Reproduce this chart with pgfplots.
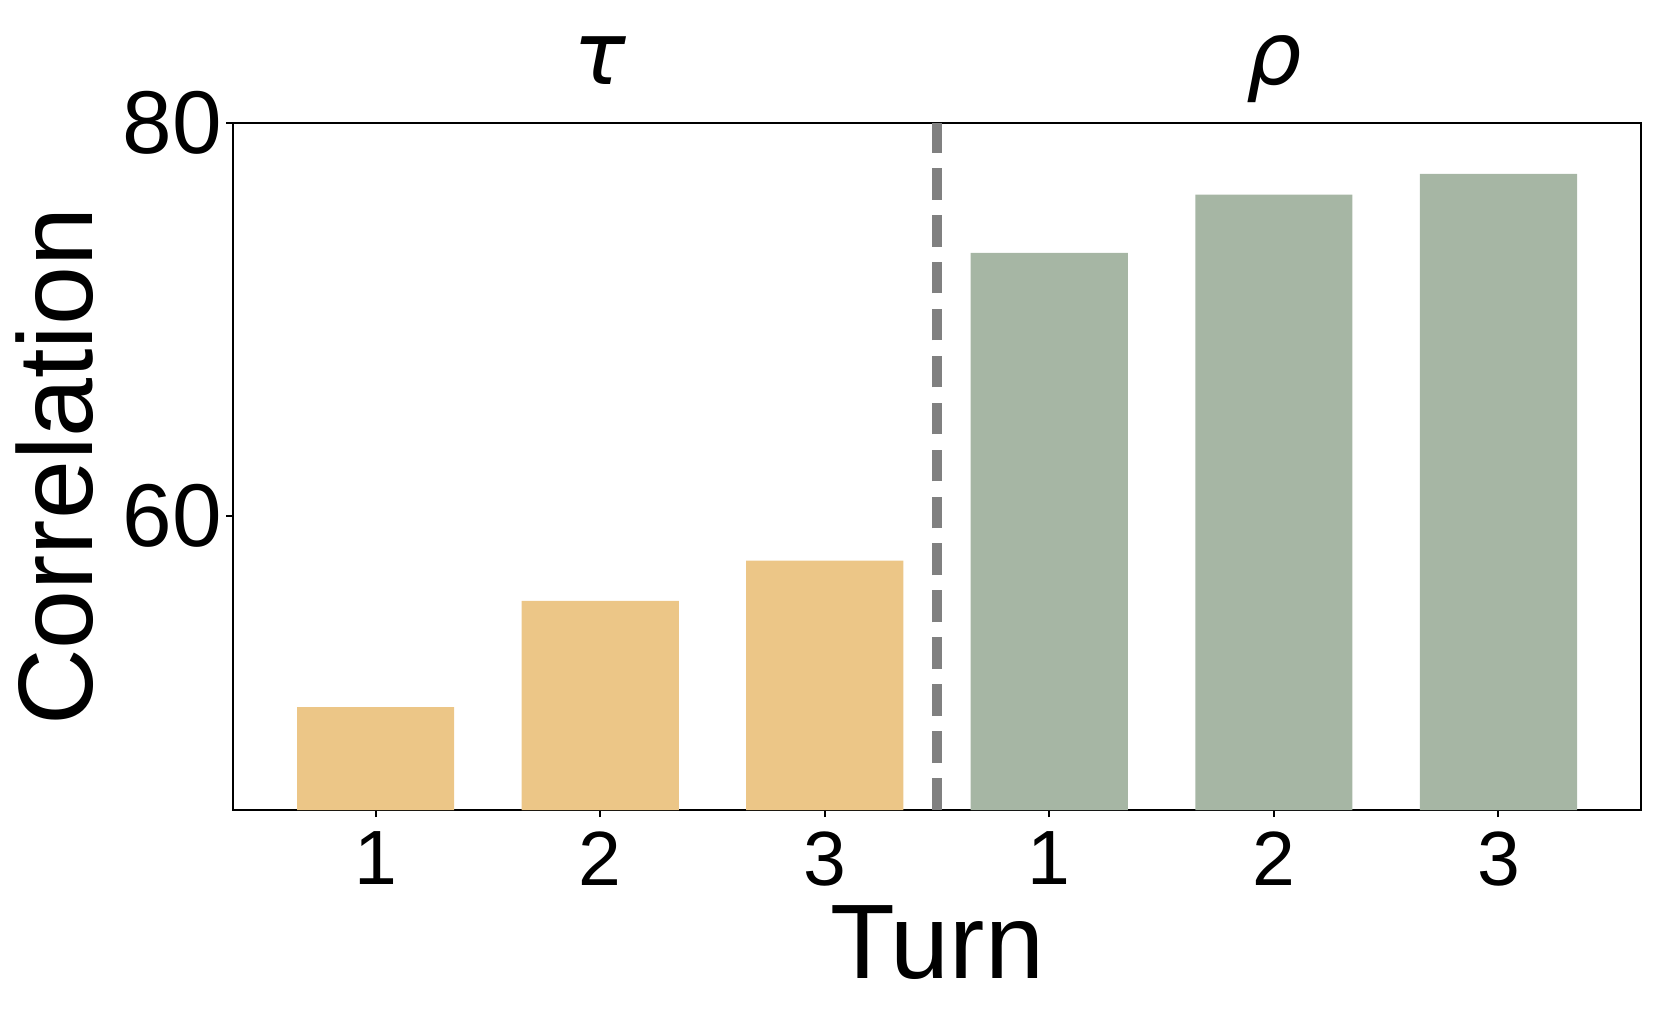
\documentclass[border=0pt]{standalone}
\usepackage{fontspec}
\setmainfont{Liberation Sans}
\newfontfamily\greekfont{DejaVu Sans}
\usepackage{pgfplots}
\pgfplotsset{compat=1.18}
\definecolor{tauc}{HTML}{ECC687}
\definecolor{rhoc}{HTML}{A6B6A4}
\begin{document}
\begin{tikzpicture}
\begin{axis}[
  width=402.6pt, height=196.4pt, scale only axis,
  xmin=-0.635, xmax=5.635,
  ymin=45, ymax=80,
  ytick={60,80},
  xtick={0,1,2,3,4,5},
  xticklabels={1,2,3,1,2,3},
  tick align=outside,
  major tick length=2pt,
  xtick pos=bottom, ytick pos=left,
  axis line style={line width=0.6pt},
  every tick/.style={black, line width=0.6pt},
  /pgf/number format/assume math mode=true,
  yticklabel style={font=\fontsize{25.5}{27}\selectfont, inner sep=0pt, xshift=-1pt},
  xticklabel style={font=\fontsize{22}{24}\selectfont, inner sep=0pt, yshift=-4pt},
  xlabel={Turn},
  ylabel={Correlation},
  xlabel style={font=\fontsize{30.3}{32}\selectfont, at={(rel axis cs:0.5,0)}, anchor=base, yshift=-48pt},
  ylabel style={font=\fontsize{30.3}{32}\selectfont, at={(rel axis cs:0,0.5)}, anchor=base, yshift=40.2pt},
  clip mode=individual,
]
\addplot[ybar, bar width=0.7, bar shift=0pt, fill=tauc, draw=none] coordinates {
(0,50.25) (1,55.66) (2,57.71)
};
\addplot[ybar, bar width=0.7, bar shift=0pt, fill=rhoc, draw=none] coordinates {
(3,73.39) (4,76.37) (5,77.42)
};
\addplot[color=gray, line width=2.6pt, dash pattern=on 9.1pt off 4.33pt] coordinates {
(2.5,45) (2.5,80)
};
\node[anchor=base, yshift=11.1pt, font=\fontsize{25}{27}\selectfont\greekfont\itshape] at (axis cs:1,80) {τ};
\node[anchor=base, yshift=11.1pt, font=\fontsize{25}{27}\selectfont\greekfont\itshape] at (axis cs:4,80) {ρ};
\coordinate (bbsw) at (rel axis cs:-0.1655,-0.306);
\coordinate (bbne) at (rel axis cs:1.0142,1.1795);
\end{axis}
\pgfresetboundingbox
\path (bbsw) rectangle (bbne);
\end{tikzpicture}
\end{document}
